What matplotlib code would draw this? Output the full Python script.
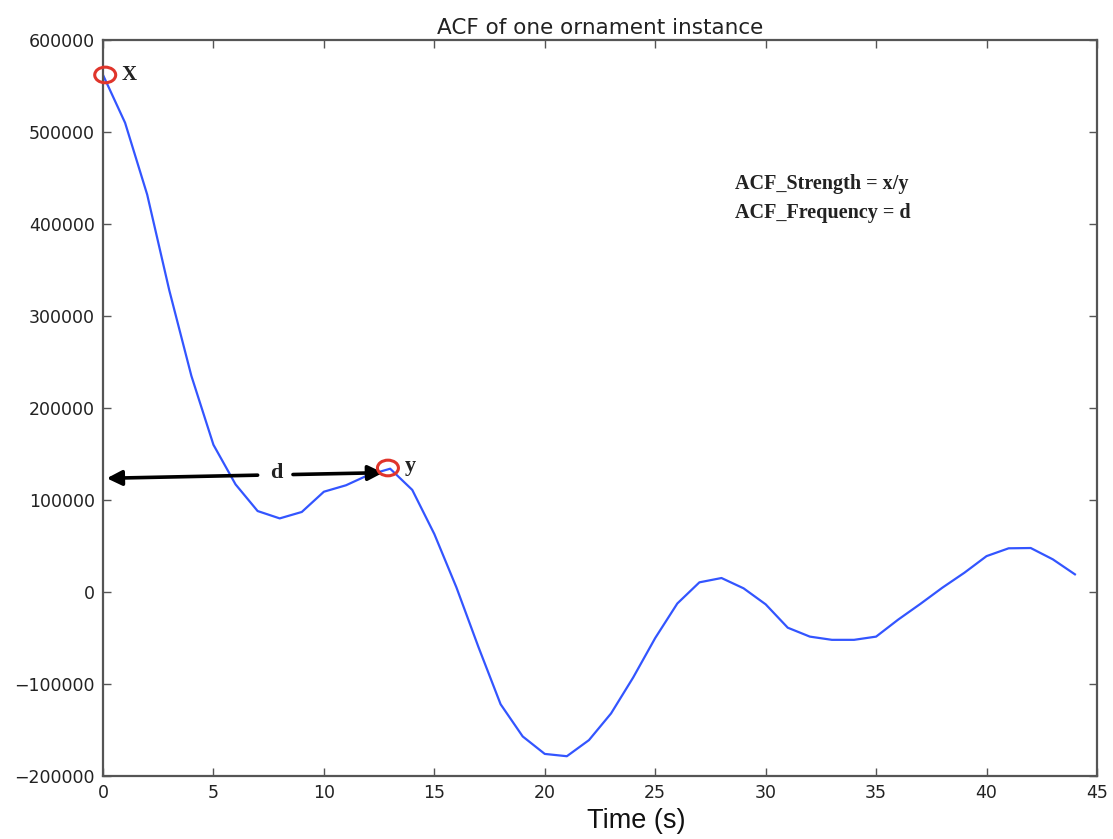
import matplotlib
matplotlib.use("Agg")
from matplotlib import pyplot as plt
from matplotlib.patches import Ellipse

# lag (s) and ACF value
lag = list(range(45))
acf = [562000, 510000, 432000, 328000, 235000, 160000, 117000, 88000, 80000, 87000,
       109000, 116000, 127000, 134000, 111000, 63000, 5000, -60000, -122000, -157000,
       -176000, -178500, -161000, -132000, -93000, -50000, -12500, 10500, 15200, 4000,
       -13400, -38800, -48500, -52000, -52000, -48500, -30000, -13000, 4700, 21000,
       39000, 47500, 47800, 35500, 19200]

xticks = [0, 5, 10, 15, 20, 25, 30, 35, 40, 45]
yticks = [-200000, -100000, 0, 100000, 200000, 300000, 400000, 500000, 600000]

fig = plt.figure(figsize=(11.13, 8.39), dpi=100)
ax = fig.add_axes([103/1113, 1 - 776/839, 994/1113, 736/839])

ax.plot(lag, acf, color='#3355ff', lw=1.6)

ax.set_xlim(0, 45)
ax.set_ylim(-200000, 600000)
ax.set_xticks(xticks)
ax.set_yticks(yticks)
ax.tick_params(direction='in', top=True, right=True, length=6, width=1,
               colors='#555555', labelcolor='#222222', labelsize=12.5, pad=6)
for s in ax.spines.values():
    s.set_color('#555555')
    s.set_linewidth(1.6)

ax.set_title("ACF of one ornament instance", fontsize=15.5, color='#222222', pad=4)
ax.set_xlabel("Time (s)", fontsize=19.5, family='Liberation Sans', color='#111111')
ax.xaxis.set_label_coords((636 - 103) / 994, -0.043)

serif = dict(family='Liberation Serif', fontweight='bold', color='#222222')

# red circles on the two peaks
for cx, cy in [(0.1, 562000), (12.9, 134800)]:
    ax.add_patch(Ellipse((cx, cy), 0.95, 17000, fill=False, ec='#e0352b', lw=2.2,
                         clip_on=False, zorder=5))
ax.text(0.85, 562000, "X", fontsize=15, va='center', **serif)
ax.text(13.65, 137000, "y", fontsize=16, va='center', **serif)

# d arrows
arr = dict(arrowstyle='-|>,head_length=0.9,head_width=0.45', color='black', lw=2.6,
           shrinkA=0, shrinkB=0)
ax.annotate("", xy=(0.17, 123600), xytext=(7.0, 127000), arrowprops=arr)
ax.annotate("", xy=(12.68, 129700), xytext=(8.6, 127700), arrowprops=arr)
ax.text(7.83, 129000, "d", fontsize=16, ha='center', va='center', **serif)

ax.text(28.6, 443500, "ACF_Strength = x/y", fontsize=14.5, va='center', **serif)
ax.text(28.6, 412000, "ACF_Frequency = d", fontsize=14.5, va='center', **serif)

fig.savefig("out.png", dpi=100)
